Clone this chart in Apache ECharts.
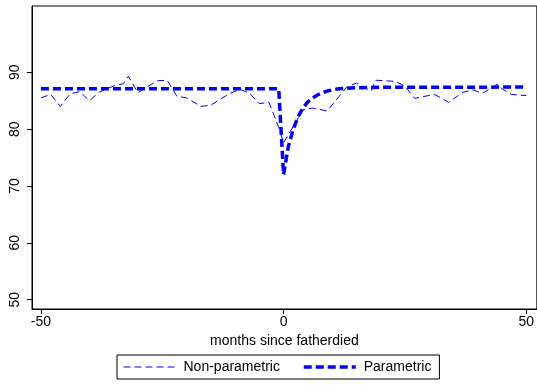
<!DOCTYPE html>
<html>
<head>
<meta charset="utf-8">
<script src="https://cdn.jsdelivr.net/npm/echarts@6/dist/echarts.min.js"></script>
<style>
  html, body { margin: 0; padding: 0; background: #fff; }
  #chart { width: 537px; height: 385px; }
</style>
</head>
<body>
<div id="chart"></div>
<script>
// months since father died
const nonParMonths = [-50, -48, -46, -44, -42, -40, -38, -35, -33, -32, -30, -28, -26, -24, -22, -20, -17, -15, -13, -11,
  -9, -7, -5, -3, -1, 0, 4, 6, 9, 13, 15, 18, 19, 23, 25, 27, 31, 32, 34, 37, 39, 41, 44, 45, 47, 50];
const nonParValues = [85.5, 86.1, 84.0, 86.2, 86.6, 85.0, 86.5, 87.6, 88.0, 89.3, 86.4, 87.5, 88.5, 88.6, 85.8, 85.5, 84.0, 84.2, 85.3, 86.3,
  87.0, 86.3, 84.5, 84.7, 80.3, 77.6, 83.4, 83.7, 83.2, 87.4, 88.1, 86.7, 88.6, 88.4, 87.6, 85.4, 86.1, 85.7, 84.7, 86.5, 86.9, 86.3, 87.9, 87.1, 86.1, 85.9];

const parMonths = [-50, -1, 0, 1, 2, 3, 4, 5, 6, 7, 8, 9, 10, 11, 12, 14, 16, 20, 50];
const parValues = [87.1, 87.1, 72.0, 77.0, 80.0, 82.2, 83.7, 84.8, 85.5, 86.0, 86.4, 86.7, 86.9, 87.05, 87.15, 87.25, 87.3, 87.35, 87.4];

const xTicks = [-50, 0, 50];
const yTicks = [50, 60, 70, 80, 90];

const pairs = (xs, ys) => xs.map((x, i) => [x, ys[i]]);

const chart = echarts.init(document.getElementById('chart'));
const font = 'Liberation Sans, Arial, sans-serif';
const thin = { color: '#0000ff', width: 1, type: [7, 4] };
const thick = { color: '#0000ff', width: 3.5, type: [8, 4] };

chart.setOption({
  animation: false,
  backgroundColor: '#fff',
  textStyle: { fontFamily: font },
  grid: {
    left: 32,
    right: -3,
    top: 6,
    bottom: 76,
    show: true,
    borderColor: '#000',
    borderWidth: 1
  },
  xAxis: {
    type: 'value',
    min: -51.84,
    max: 52.19,
    name: 'months since fatherdied',
    nameLocation: 'middle',
    nameGap: 24,
    nameTextStyle: { color: '#000', fontSize: 14, fontFamily: font },
    axisLine: { onZero: false, lineStyle: { color: '#000', width: 1 } },
    axisTick: { customValues: xTicks, length: 5, lineStyle: { color: '#000' } },
    axisLabel: { customValues: xTicks, color: '#000', fontSize: 14, fontFamily: font, margin: 6 },
    splitLine: { show: false }
  },
  yAxis: {
    type: 'value',
    min: 48.36,
    max: 101.66,
    axisLine: { show: true, onZero: false, lineStyle: { color: '#000', width: 1 } },
    axisTick: { show: true, customValues: yTicks, length: 5, lineStyle: { color: '#000' } },
    axisLabel: { customValues: yTicks, rotate: 90, color: '#000', fontSize: 14, fontFamily: font, margin: 10 },
    splitLine: { show: false }
  },
  legend: {
    left: 117,
    top: 355,
    width: 321,
    itemWidth: 52,
    itemHeight: 14,
    itemGap: 22,
    padding: [5, 8, 5, 6],
    borderColor: '#000',
    borderWidth: 1,
    itemStyle: { opacity: 0 },
    textStyle: { color: '#000', fontSize: 14, fontFamily: font, padding: [0, 0, 0, 3] },
    data: [
      { name: 'Non-parametric', lineStyle: thin, itemStyle: { opacity: 0 } },
      { name: 'Parametric', lineStyle: thick, itemStyle: { opacity: 0 } }
    ]
  },
  series: [{
    name: 'Non-parametric',
    type: 'line',
    data: pairs(nonParMonths, nonParValues),
    symbol: 'none',
    lineStyle: thin,
    itemStyle: { color: '#0000ff' }
  }, {
    name: 'Parametric',
    type: 'line',
    data: pairs(parMonths, parValues),
    symbol: 'none',
    lineStyle: thick,
    itemStyle: { color: '#0000ff' }
  }]
});
</script>
</body>
</html>
